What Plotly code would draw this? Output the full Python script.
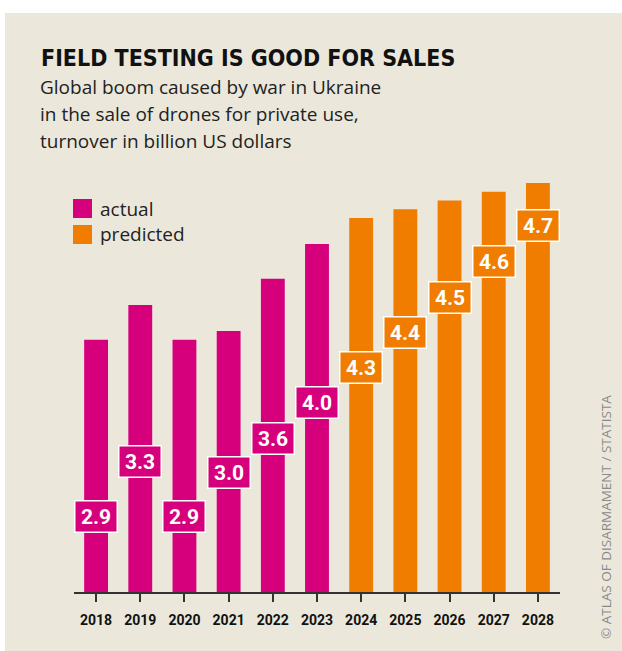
import plotly.graph_objects as go

# Turnover of drones for private use, billion US dollars
years = ["2018", "2019", "2020", "2021", "2022", "2023",
         "2024", "2025", "2026", "2027", "2028"]
turnover = [2.9, 3.3, 2.9, 3.0, 3.6, 4.0, 4.3, 4.4, 4.5, 4.6, 4.7]
status = ["actual"] * 6 + ["predicted"] * 5
# Height (in data units) at which each value tag sits on its bar
tag_height = [0.87, 1.50, 0.87, 1.37, 1.77, 2.18, 2.58, 2.98, 3.39, 3.80, 4.21]

MAGENTA = "#d6007d"
ORANGE = "#f07d00"
BEIGE = "#ebe8db"
FONT = "DejaVu Sans Condensed, Roboto, sans-serif"
BODY = "Open Sans, sans-serif"
TICKS = "Roboto, sans-serif"

W, H = 622, 651
ML, MR, MT, MB = 74, 62, 157, 59
PW, PH = W - ML - MR, H - MT - MB
YMAX = 5.0


def px_x(x):
    return (x - ML) / PW


def px_y(y):
    return (H - MB - y) / PH


colors = [MAGENTA if s == "actual" else ORANGE for s in status]
idx = list(range(len(years)))

fig = go.Figure(go.Bar(
    x=idx, y=turnover, marker=dict(color=colors, line=dict(width=0)),
    showlegend=False, hovertext=years, hoverinfo="text+y",
))

shapes = [
    # beige card behind everything
    dict(type="rect", xref="paper", yref="paper", layer="below",
         x0=px_x(5), x1=px_x(W + 2), y0=px_y(H + 2), y1=px_y(13),
         fillcolor=BEIGE, line=dict(width=0)),
]

annotations = [
    dict(text="<b>FIELD TESTING IS GOOD FOR SALES</b>", x=px_x(39), y=px_y(58),
         xanchor="left", yanchor="middle", font=dict(family=FONT, size=23, color="#111")),
]
for i, line in enumerate(["Global boom caused by war in Ukraine",
                          "in the sale of drones for private use,",
                          "turnover in billion US dollars"]):
    annotations.append(dict(text=line, x=px_x(38), y=px_y(87 + 27 * i),
                            xanchor="left", yanchor="middle",
                            font=dict(family=BODY, size=19, color="#222")))

# legend
for i, (name, col) in enumerate([("actual", MAGENTA), ("predicted", ORANGE)]):
    top = 199 + 26 * i
    shapes.append(dict(type="rect", xref="paper", yref="paper",
                       x0=px_x(73), x1=px_x(92), y0=px_y(top + 19), y1=px_y(top),
                       fillcolor=col, line=dict(width=0)))
    annotations.append(dict(text=name, x=px_x(98), y=px_y(top + 9.5),
                            xanchor="left", yanchor="middle",
                            font=dict(family=BODY, size=19, color="#222")))

# value tags on the bars
for i, v, h, c in zip(idx, turnover, tag_height, colors):
    annotations.append(dict(
        text=f"<b>{v:.1f}</b>", x=i, y=h, xref="x", yref="y",
        showarrow=False, xanchor="center", yanchor="middle",
        bgcolor=c, bordercolor="white", borderwidth=1.5, borderpad=2,
        width=37, height=26,
        font=dict(family=TICKS, size=21, color="white"),
    ))

# source credit
annotations.append(dict(
    text="© ATLAS OF DISARMAMENT / STATISTA", textangle=-90,
    x=px_x(606), y=px_y(517), xanchor="center", yanchor="middle",
    font=dict(family=BODY, size=13.5, color="#8a8a8a"),
))

for a in annotations:
    a.setdefault("showarrow", False)
    a.setdefault("xref", "paper")
    a.setdefault("yref", "paper")

fig.update_layout(
    width=W, height=H,
    margin=dict(l=ML, r=MR, t=MT, b=MB, autoexpand=False),
    paper_bgcolor="white", plot_bgcolor="rgba(0,0,0,0)",
    bargap=0.46, shapes=shapes, annotations=annotations,
    xaxis=dict(range=[-0.5, 10.5], showgrid=False, zeroline=False,
               showline=True, linecolor="#333", linewidth=2,
               ticks="outside", ticklen=8, tickwidth=1.5, tickcolor="#333",
               tickvals=idx, ticktext=[f"<b>{y}</b>" for y in years],
               tickfont=dict(family=TICKS, size=14, color="#111"),
               ticklabelstandoff=6, fixedrange=True),
    yaxis=dict(range=[0, YMAX], visible=False, fixedrange=True),
)

fig.write_html("out.html")
